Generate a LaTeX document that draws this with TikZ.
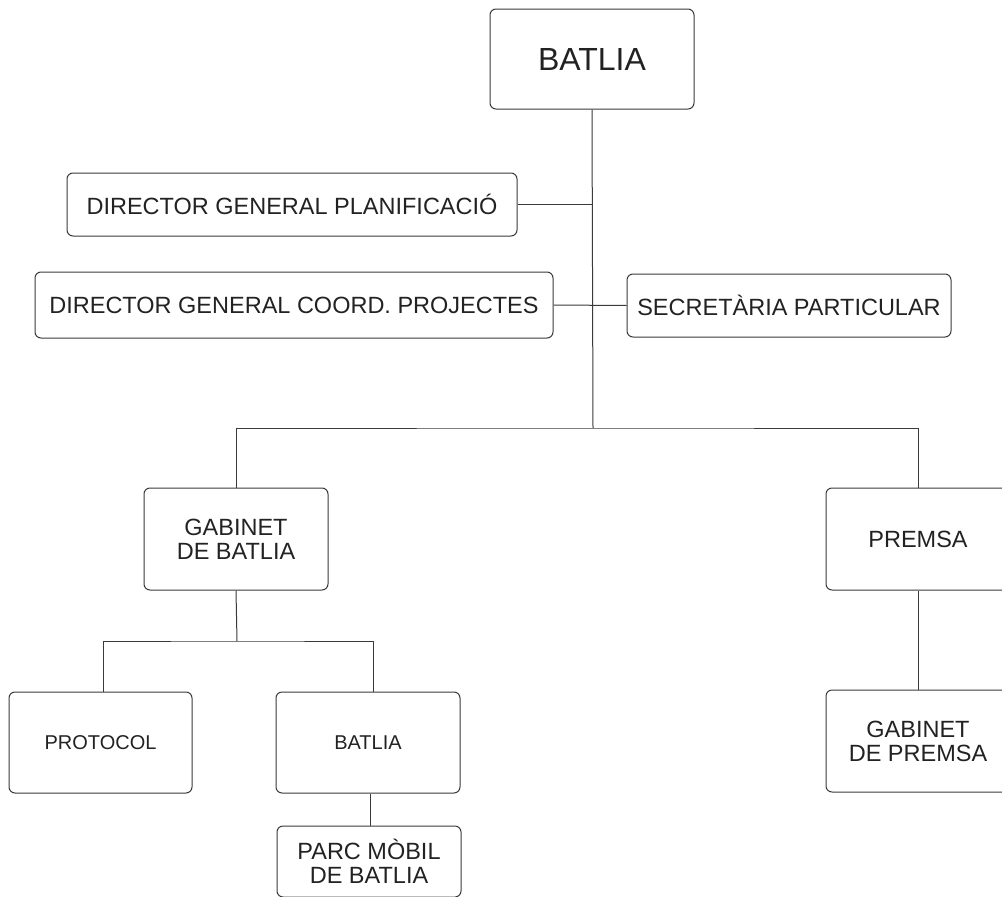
\documentclass[tikz,border=0pt]{standalone}
\usepackage{fontspec}
\setmainfont{Liberation Sans}
\usepackage{tikz}
\usetikzlibrary{positioning}

\definecolor{linegray}{HTML}{3A3A3A}
\definecolor{textgray}{HTML}{222222}

\tikzset{
  orgbox/.style={draw=linegray, line width=1pt, rounded corners=6pt, text=textgray,
    align=center, inner sep=0pt, font=\fontsize{23.5}{24}\selectfont},
  smallbox/.style={orgbox, font=\fontsize{20}{22}\selectfont},
  link/.style={draw=linegray, line width=1pt}
}

\begin{document}
\begin{tikzpicture}[x=1pt, y=-1pt]
            % page frame
            \useasboundingbox (0,0) rectangle (1002,897);
            \clip (0,0) rectangle (1002,897);

            % top
            \node[orgbox, minimum width=204, minimum height=100, font=\fontsize{32}{34}\selectfont] (batlia) at (592,59) {BATLIA};

            % staff units
            \node[orgbox, minimum width=450, minimum height=63] (dgplan) at (292,204.5) {DIRECTOR GENERAL PLANIFICACIÓ};
            \node[orgbox, minimum width=518, minimum height=66] (dgcoord) at (294,305) {DIRECTOR GENERAL COORD. PROJECTES};
            \node[orgbox, minimum width=324, minimum height=63] (secret) at (789,305.5) {SECRETÀRIA PARTICULAR};

            % departments
            \node[orgbox, minimum width=184, minimum height=102] (gabbat) at (236,539) {GABINET\\DE BATLIA};
            \node[orgbox, minimum width=184, minimum height=102] (premsa) at (918,539) {PREMSA};
            \node[smallbox, minimum width=183, minimum height=101] (protocol) at (100.5,742.5) {PROTOCOL};
            \node[smallbox, minimum width=184, minimum height=101] (batliab) at (368,742.5) {BATLIA};
            \node[orgbox, minimum width=184, minimum height=102] (gabprem) at (918,741) {GABINET\\DE PREMSA};
            \node[orgbox, minimum width=184, minimum height=71] (parc) at (369,861.5) {PARC MÒBIL\\DE BATLIA};

            % connectors
            \coordinate (trunk) at (593,428);
            \coordinate (split) at (237,641);
            \draw[link] (batlia.south) -- (trunk);
            \draw[link] (dgplan.east) -- (dgplan.east -| batlia.south);
            \draw[link] (dgcoord.east) -- (secret.west);
            \draw[link] (gabbat.north) |- (trunk) -| (premsa.north);
            \draw[link] (gabbat.south) -- (split);
            \draw[link] ([xshift=2.5pt]protocol.north) |- (split) -| ([xshift=5pt]batliab.north);
            \draw[link] ([xshift=2pt]batliab.south) -- ([xshift=1pt]parc.north);
            \draw[link] (premsa.south) -- (gabprem.north);
        \end{tikzpicture}
\end{document}
